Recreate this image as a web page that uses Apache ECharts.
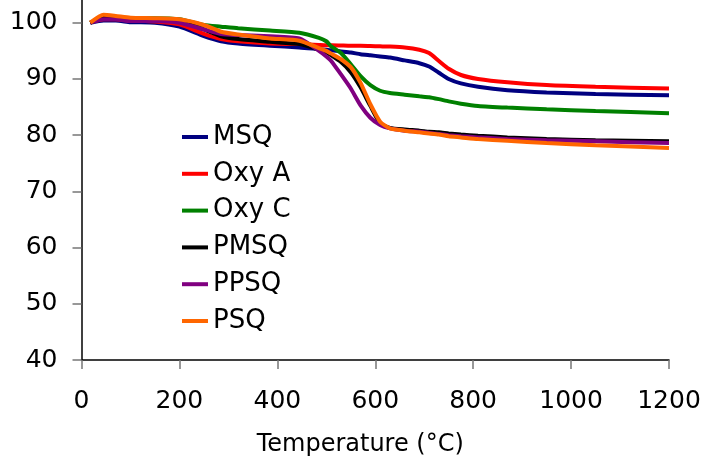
<!DOCTYPE html>
<html><head><meta charset="utf-8">
<script src="https://cdn.jsdelivr.net/npm/echarts@6/dist/echarts.min.js"></script>
<style>html,body{margin:0;padding:0;background:#fff;overflow:hidden;width:706px;height:462px;position:relative}#c{width:706px;height:496px;position:absolute;left:0;top:-34px}</style>
</head><body><div id="c"></div>
<script>
const temps = [18,45,70,100,150,200,250,285,320,385,445,485,500,510,530,550,570,590,610,630,660,690,710,730,750,775,810,870,950,1050,1200];
const seriesNames = ['MSQ','Oxy A','Oxy C','PMSQ','PPSQ','PSQ'];
const seriesColors = ['#000080','#FF0000','#008000','#000000','#800080','#FF6600'];
const msq   = [100.0,100.4,100.4,100.1,100.0,99.3,97.6,96.7,96.3,95.9,95.6,95.3,95.2,95.1,94.9,94.7,94.4,94.2,94.0,93.8,93.3,92.8,92.2,91.1,90.0,89.2,88.6,88.0,87.6,87.3,87.1];
const oxyA  = [100.0,100.6,100.6,100.4,100.2,99.7,98.0,97.1,96.7,96.3,96.2,96.05,96.0,96.0,95.95,95.9,95.9,95.85,95.8,95.75,95.6,95.2,94.6,93.2,91.8,90.7,90.0,89.4,88.9,88.6,88.3];
const oxyC  = [100.0,101.0,100.9,100.8,100.8,100.6,99.6,99.3,99.0,98.6,98.2,97.3,96.7,95.8,94.6,92.6,90.5,88.9,87.9,87.5,87.2,86.9,86.75,86.4,86.0,85.6,85.2,84.9,84.6,84.3,83.9];
const pmsq  = [100.0,100.9,100.8,100.5,100.4,100.2,98.8,97.6,97.1,96.6,96.2,95.2,94.7,94.2,93.0,91.2,88.5,85.2,82.1,81.3,81.0,80.8,80.6,80.5,80.3,80.1,79.9,79.6,79.3,79.1,78.9];
const ppsq  = [100.0,100.6,100.6,100.3,100.3,100.0,98.8,98.0,97.8,97.6,97.2,95.0,94.0,93.2,90.8,88.3,85.3,83.1,81.8,81.2,80.8,80.6,80.4,80.2,80.0,79.8,79.6,79.3,79.1,78.9,78.6];
const psq   = [100.0,101.4,101.2,100.9,100.8,100.6,99.6,98.4,97.9,97.2,96.8,95.5,95.0,94.5,93.5,92.1,89.3,85.5,82.4,81.2,80.8,80.5,80.3,80.1,79.8,79.6,79.3,79.0,78.6,78.2,77.7];
const allValues = [msq, oxyA, oxyC, pmsq, ppsq, psq];
const xTicks = {min:0, max:1200, interval:200};
const yTicks = {min:40, max:110, interval:10};

const chart = echarts.init(document.getElementById('c'), null, {renderer:'canvas'});
const font = 'DejaVu Sans, Verdana, sans-serif';
chart.setOption({
  animation:false,
  backgroundColor:'#fff',
  grid:{left:81.5, right:37, top:0.5, bottom:102, containLabel:false, outerBoundsMode:'none'},
  xAxis:{type:'value', min:xTicks.min, max:xTicks.max, interval:xTicks.interval,
    name:'Temperature (°C)', nameLocation:'middle', nameGap:73,
    nameTextStyle:{fontFamily:font, fontSize:24, color:'#000', padding:[0,30,0,0]},
    axisLine:{lineStyle:{color:'#000', width:1.5}},
    axisTick:{show:true, length:9, inside:false, lineStyle:{color:'#777', width:1.5}},
    axisLabel:{margin:29, fontFamily:font, fontSize:25, color:'#000', formatter:v=>String(v)},
    splitLine:{show:false}},
  yAxis:{type:'value', min:yTicks.min, max:yTicks.max, interval:yTicks.interval,
    axisLine:{show:true, lineStyle:{color:'#000', width:1.5}},
    axisTick:{show:true, length:9, lineStyle:{color:'#777', width:1.5}},
    axisLabel:{margin:24, fontFamily:font, fontSize:25, color:'#000', formatter:v=>String(v)},
    splitLine:{show:false}},
  legend:{orient:'vertical', left:177, top:153, icon:'rect', itemWidth:26, itemHeight:4, itemGap:10.8,
    textStyle:{fontFamily:font, fontSize:26, color:'#000', lineHeight:26},
    data:seriesNames},
  series: seriesNames.map((n,i)=>({
    name:n, type:'line', showSymbol:false, smooth:0.2,
    color:seriesColors[i],
    lineStyle:{width:4, color:seriesColors[i]},
    data: temps.map((t,j)=>[t, allValues[i][j]])
  }))
});
</script></body></html>
